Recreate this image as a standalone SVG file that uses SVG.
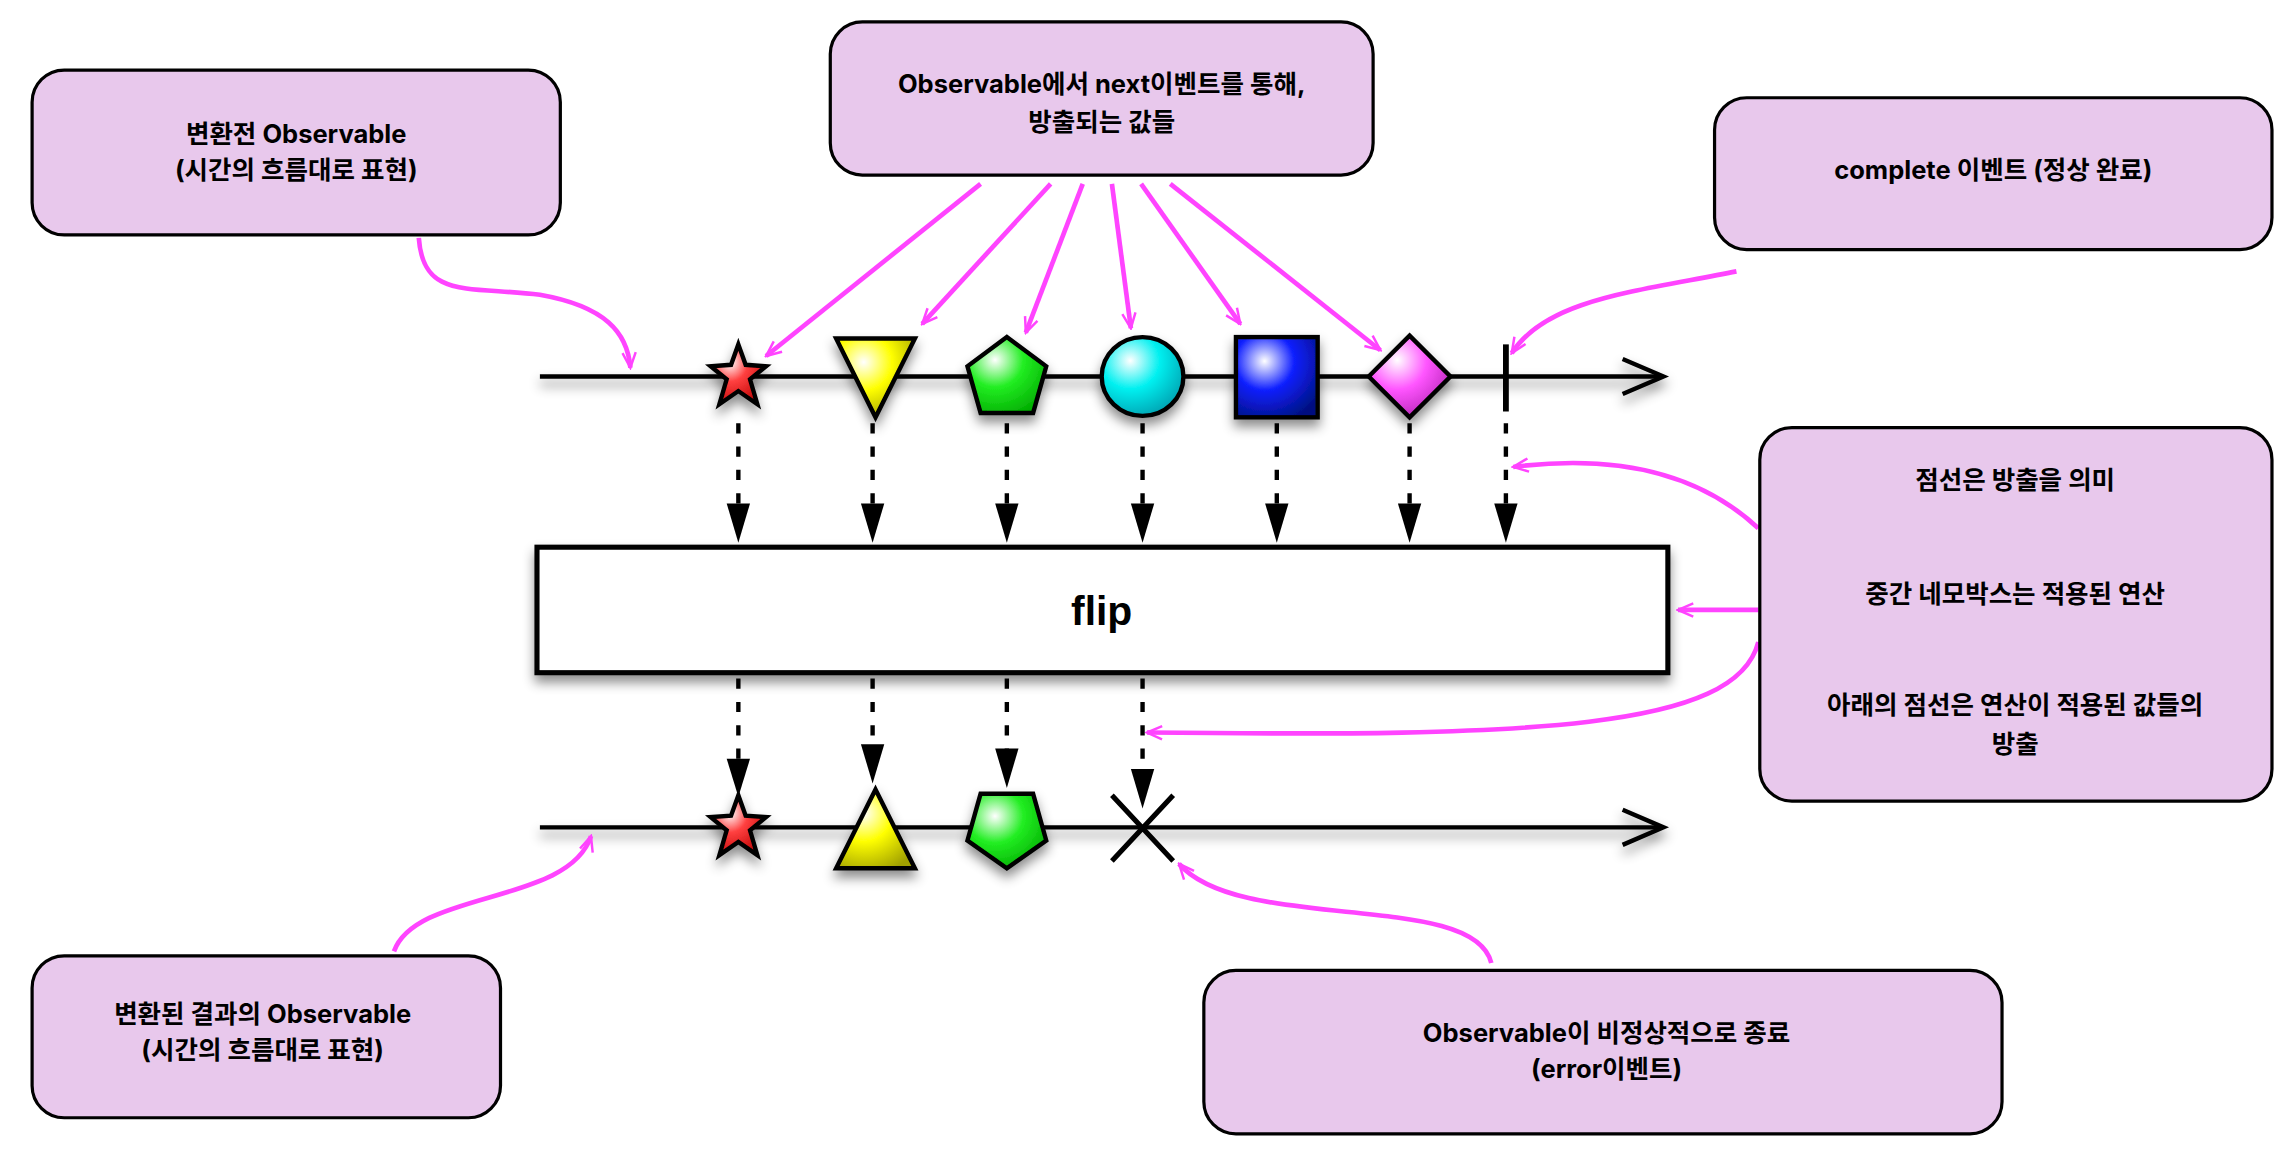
<svg xmlns="http://www.w3.org/2000/svg" width="2288" height="1164" viewBox="0 0 2288 1164">
<style>
.box{fill:#e8c8ec;stroke:#000;stroke-width:2.2}
.t{font-family:Inter,"Noto Sans CJK KR",sans-serif;font-weight:700;font-size:17.5px;fill:#000;text-anchor:middle}
.m{fill:none;stroke:#ff44ff;stroke-width:3.2;marker-end:url(#ma)}
.d{stroke:#000;stroke-width:3;stroke-dasharray:7,9}
.sh{stroke:#000;stroke-width:3;filter:url(#ds)}
</style>
<defs>
<marker id="ma" viewBox="0 0 20 20" refX="18" refY="10" markerWidth="13" markerHeight="13" markerUnits="userSpaceOnUse" orient="auto"><path d="M2,3 L18,10 L2,17" fill="none" stroke="#ff44ff" stroke-width="2.6"/></marker>
<filter id="ds" x="-30%" y="-30%" width="160%" height="180%"><feDropShadow dx="0" dy="5" stdDeviation="4" flood-opacity="0.45"/></filter>
<radialGradient id="gr" cx="0.35" cy="0.3" r="0.8"><stop offset="0" stop-color="#fff"/><stop offset="0.4" stop-color="#ff4040"/><stop offset="1" stop-color="#b00"/></radialGradient>
<radialGradient id="gy" cx="0.35" cy="0.3" r="0.8"><stop offset="0" stop-color="#fff"/><stop offset="0.45" stop-color="#ffff00"/><stop offset="1" stop-color="#a0a000"/></radialGradient>
<radialGradient id="gg" cx="0.35" cy="0.3" r="0.8"><stop offset="0" stop-color="#fff"/><stop offset="0.45" stop-color="#22ee22"/><stop offset="1" stop-color="#0a0"/></radialGradient>
<radialGradient id="gc" cx="0.35" cy="0.3" r="0.8"><stop offset="0" stop-color="#fff"/><stop offset="0.45" stop-color="#00f0f0"/><stop offset="1" stop-color="#09a"/></radialGradient>
<radialGradient id="gb" cx="0.35" cy="0.3" r="0.8"><stop offset="0" stop-color="#fff"/><stop offset="0.45" stop-color="#1020ff"/><stop offset="1" stop-color="#001080"/></radialGradient>
<radialGradient id="gp" cx="0.35" cy="0.3" r="0.8"><stop offset="0" stop-color="#fff"/><stop offset="0.45" stop-color="#ff55ff"/><stop offset="1" stop-color="#b020b0"/></radialGradient>
</defs>
<rect width="2288" height="1164" fill="#fff"/>
<g transform="scale(1.4592)">
<g id="timelines" filter="url(#ds)">
<line x1="370" y1="258" x2="1138" y2="258" stroke="#000" stroke-width="3"/>
<path d="M1112,246 L1140,258 L1112,270" fill="none" stroke="#000" stroke-width="3"/>
<line x1="370" y1="567" x2="1138" y2="567" stroke="#000" stroke-width="3"/>
<path d="M1112,555 L1140,567 L1112,579" fill="none" stroke="#000" stroke-width="3"/>
</g>
<g id="connectors">
<g class="dots">
<line class="d" x1="506" y1="290" x2="506" y2="350"/><line class="d" x1="598" y1="290" x2="598" y2="350"/>
<line class="d" x1="690" y1="290" x2="690" y2="350"/><line class="d" x1="783" y1="290" x2="783" y2="350"/>
<line class="d" x1="875" y1="290" x2="875" y2="350"/><line class="d" x1="966" y1="290" x2="966" y2="350"/>
<line class="d" x1="1032" y1="290" x2="1032" y2="350"/>
<line class="d" x1="506" y1="465" x2="506" y2="525"/><line class="d" x1="598" y1="465" x2="598" y2="515"/>
<line class="d" x1="690" y1="465" x2="690" y2="518"/><line class="d" x1="783" y1="465" x2="783" y2="532"/>
</g>
<g fill="#000">
<polygon points="498,345 514,345 506,372"/><polygon points="590,345 606,345 598,372"/><polygon points="682,345 698,345 690,372"/>
<polygon points="775,345 791,345 783,372"/><polygon points="867,345 883,345 875,372"/><polygon points="958,345 974,345 966,372"/>
<polygon points="1024,345 1040,345 1032,372"/>
<polygon points="498,520 514,520 506,546"/><polygon points="590,510 606,510 598,537"/><polygon points="682,513 698,513 690,540"/>
<polygon points="775,527 791,527 783,554"/>
</g>
<path class="m" d="M287,163 C290,205 320,196 370,202 C415,210 430,228 432,252"/>
<path class="m" d="M672,126 L525,244"/>
<path class="m" d="M720,126 L632,222"/>
<path class="m" d="M742,126 L703,228"/>
<path class="m" d="M762,126 L775,225"/>
<path class="m" d="M782,126 L850,222"/>
<path class="m" d="M802,126 L946,240"/>
<path class="m" d="M1190,186 C1120,200 1060,205 1036,242"/>
<path class="m" d="M1205,362 C1160,320 1100,312 1037,320"/>
<path class="m" d="M1205,418 L1150,418"/>
<path class="m" d="M1205,440 C1190,500 1050,505 786,502"/>
<path class="m" d="M270,652 C285,610 390,620 405,573"/>
<path class="m" d="M1022,660 C1010,610 850,640 808,592"/>
</g>
<g id="top-shapes">
<polygon class="sh" fill="url(#gr)" points="506,236 511,250 525,251 514,260 519,277 506,268 493,277 498,260 487,251 501,250"/>
<polygon class="sh" fill="url(#gy)" points="573,232 627,232 600,286"/>
<polygon class="sh" fill="url(#gg)" points="690,231 717,251 708,283 672,283 663,251"/>
<ellipse class="sh" fill="url(#gc)" cx="783" cy="258" rx="28" ry="27"/>
<rect class="sh" fill="url(#gb)" x="847" y="231" width="56" height="55"/>
<polygon class="sh" fill="url(#gp)" points="966,230 994,258 966,286 938,258"/>
<line x1="1032" y1="236" x2="1032" y2="282" stroke="#000" stroke-width="4"/>
</g>
<g id="flip">
<rect x="368" y="375" width="775" height="86" fill="#fff" stroke="#000" stroke-width="3.5" filter="url(#ds)"/>
<text x="755" y="428" font-family="Liberation Sans,Arial,sans-serif" font-weight="700" font-size="28" text-anchor="middle">flip</text>
</g>
<g id="bottom-shapes">
<polygon class="sh" fill="url(#gr)" points="506,545 511,559 525,560 514,569 519,586 506,577 493,586 498,569 487,560 501,559"/>
<polygon class="sh" fill="url(#gy)" points="600,541 627,595 573,595"/>
<polygon class="sh" fill="url(#gg)" points="672,544 708,544 717,576 690,595 663,576"/>
<path d="M762,545 L804,590 M804,545 L762,590" stroke="#000" stroke-width="3.5"/>
</g>
<g id="n1"><rect class="box" x="22" y="48" width="362" height="113" rx="22"/>
<text class="t" x="203" y="98">변환전 Observable</text><text class="t" x="203" y="123">(시간의 흐름대로 표현)</text></g>
<g id="n2"><rect class="box" x="569" y="15" width="372" height="105" rx="22"/>
<text class="t" x="755" y="64">Observable에서 next이벤트를 통해,</text><text class="t" x="755" y="90">방출되는 값들</text></g>
<g id="n3"><rect class="box" x="1175" y="67" width="382" height="104" rx="22"/>
<text class="t" x="1366" y="123">complete 이벤트 (정상 완료)</text></g>
<g id="n4"><rect class="box" x="1206" y="293" width="351" height="256" rx="22"/>
<text class="t" x="1381" y="335">점선은 방출을 의미</text>
<text class="t" x="1381" y="413">중간 네모박스는 적용된 연산</text>
<text class="t" x="1381" y="489">아래의 점선은 연산이 적용된 값들의</text>
<text class="t" x="1381" y="516">방출</text></g>
<g id="n5"><rect class="box" x="22" y="655" width="321" height="111" rx="22"/>
<text class="t" x="180" y="701">변환된 결과의 Observable</text><text class="t" x="180" y="726">(시간의 흐름대로 표현)</text></g>
<g id="n6"><rect class="box" x="825" y="665" width="547" height="112" rx="22"/>
<text class="t" x="1101" y="714">Observable이 비정상적으로 종료</text><text class="t" x="1101" y="739">(error이벤트)</text></g>
</g>
</svg>
